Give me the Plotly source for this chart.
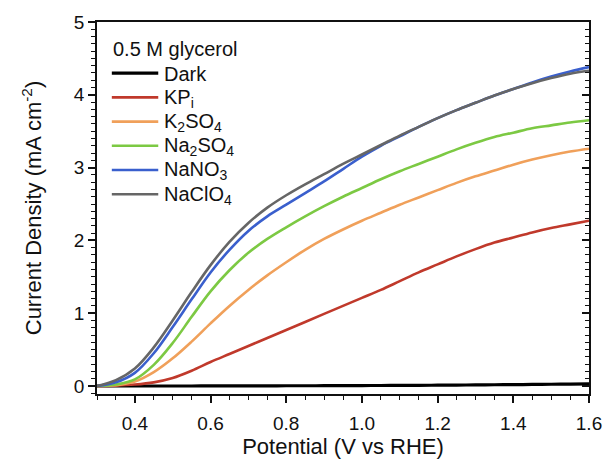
import plotly.graph_objects as go

# Potential grid (V vs RHE)
potential = [0.30, 0.35, 0.40, 0.45, 0.50, 0.55, 0.60, 0.65, 0.70, 0.75,
             0.80, 0.85, 0.90, 0.95, 1.00, 1.05, 1.10, 1.15, 1.20, 1.25,
             1.30, 1.35, 1.40, 1.45, 1.50, 1.55, 1.60]

# Current density (mA cm^-2) for each electrolyte
dark    = [0.000, 0.000, 0.000, 0.000, 0.000, 0.000, 0.001, 0.001, 0.002, 0.002,
           0.003, 0.003, 0.004, 0.005, 0.006, 0.007, 0.008, 0.009, 0.011, 0.013,
           0.015, 0.017, 0.019, 0.021, 0.024, 0.027, 0.030]
kpi     = [0.000, 0.005, 0.020, 0.050, 0.110, 0.210, 0.330, 0.440, 0.550, 0.660,
           0.770, 0.880, 0.990, 1.100, 1.210, 1.320, 1.440, 1.560, 1.670, 1.780,
           1.880, 1.970, 2.040, 2.110, 2.170, 2.220, 2.270]
k2so4   = [0.000, 0.010, 0.060, 0.190, 0.380, 0.610, 0.860, 1.100, 1.320, 1.520,
           1.700, 1.870, 2.020, 2.150, 2.270, 2.380, 2.490, 2.590, 2.690, 2.790,
           2.880, 2.960, 3.040, 3.110, 3.170, 3.220, 3.260]
na2so4  = [0.000, 0.020, 0.090, 0.290, 0.590, 0.950, 1.300, 1.590, 1.830, 2.020,
           2.180, 2.330, 2.470, 2.600, 2.720, 2.840, 2.950, 3.050, 3.150, 3.250,
           3.340, 3.420, 3.480, 3.540, 3.580, 3.620, 3.650]
nano3   = [0.000, 0.050, 0.180, 0.450, 0.810, 1.190, 1.560, 1.870, 2.130, 2.330,
           2.490, 2.650, 2.810, 2.980, 3.150, 3.300, 3.430, 3.560, 3.680, 3.790,
           3.890, 3.990, 4.080, 4.170, 4.250, 4.320, 4.380]
naclo4  = [0.000, 0.080, 0.240, 0.530, 0.900, 1.290, 1.660, 1.980, 2.240, 2.450,
           2.620, 2.770, 2.910, 3.050, 3.180, 3.310, 3.440, 3.560, 3.680, 3.790,
           3.890, 3.990, 4.080, 4.160, 4.230, 4.290, 4.330]

series = [
    ("Dark", dark, "#000000", 3.2),
    ("KP<sub>i</sub>", kpi, "#C0392B", 2.6),
    ("K<sub>2</sub>SO<sub>4</sub>", k2so4, "#F0A05A", 2.6),
    ("Na<sub>2</sub>SO<sub>4</sub>", na2so4, "#7CC943", 2.6),
    ("NaNO<sub>3</sub>", nano3, "#3A5FCD", 2.6),
    ("NaClO<sub>4</sub>", naclo4, "#666666", 2.6),
]
legend_title = "0.5 M glycerol"

FONT = "Liberation Sans, Arial, sans-serif"
W, H = 614, 463
ML, MR, MT, MB = 97, 19, 20, 65
PW, PH = W - ML - MR, H - MT - MB


def px_x(p):
    return (p - ML) / PW


def px_y(p):
    return (H - MB - p) / PH


fig = go.Figure()
for name, vals, color, width in series:
    fig.add_trace(go.Scatter(
        x=potential, y=vals, mode="lines", name=name, showlegend=False,
        line=dict(color=color, width=width, shape="spline", smoothing=1.0),
    ))

# invisible companion trace so the right-hand axis is drawn
fig.add_trace(go.Scatter(x=potential, y=dark, yaxis="y2", mode="lines",
                         line=dict(color="rgba(0,0,0,0)"), showlegend=False,
                         hoverinfo="skip"))

# legend block: title, line samples and labels
fig.add_annotation(text=legend_title, xref="paper", yref="paper",
                   x=px_x(111), y=px_y(47), xanchor="left", yanchor="middle",
                   showarrow=False, font=dict(size=20, color="#111"))
row0, row_gap = 72, 24.6
for i, (name, vals, color, width) in enumerate(series):
    yc = row0 + i * row_gap
    fig.add_shape(type="line", xref="paper", yref="paper",
                  x0=px_x(112), x1=px_x(159), y0=px_y(yc), y1=px_y(yc),
                  line=dict(color=color, width=width))
    fig.add_annotation(text=name, xref="paper", yref="paper",
                       x=px_x(163), y=px_y(yc + 1), xanchor="left",
                       yanchor="middle", showarrow=False,
                       font=dict(size=20, color="#111"))

y_range = [-0.11, 5.0]

fig.update_layout(
    width=W, height=H,
    margin=dict(l=ML, r=MR, t=MT, b=MB),
    paper_bgcolor="white", plot_bgcolor="white",
    font=dict(family=FONT, size=19, color="#111"),
    showlegend=False,
    xaxis=dict(
        range=[0.3, 1.6], tickvals=[0.4, 0.6, 0.8, 1.0, 1.2, 1.4, 1.6],
        ticktext=["0.4", "0.6", "0.8", "1.0", "1.2", "1.4", "1.6"],
        ticks="outside", ticklen=7, tickwidth=1.5, tickcolor="#111",
        ticklabelstandoff=4,
        minor=dict(dtick=0.05, tick0=0.3, ticks="outside", ticklen=4,
                   tickwidth=1.2, tickcolor="#111"),
        showline=True, linecolor="#111", linewidth=1.5, mirror=True,
        showgrid=False, zeroline=False,
        title=dict(text="Potential (V vs RHE)", font=dict(size=22), standoff=2),
        tickfont=dict(size=19),
    ),
    yaxis=dict(
        range=y_range, tickvals=[0, 1, 2, 3, 4, 5],
        ticks="outside", ticklen=7, tickwidth=1.5, tickcolor="#111",
        minor=dict(dtick=0.1, tick0=0, ticks="outside", ticklen=4,
                   tickwidth=1.2, tickcolor="#111"),
        showline=True, linecolor="#111", linewidth=1.5,
        showgrid=False, zeroline=False,
        title=dict(text="Current Density (mA cm<sup>-2</sup>)", font=dict(size=22),
                   standoff=26),
        tickfont=dict(size=19),
    ),
    yaxis2=dict(
        overlaying="y", side="right", range=y_range,
        tickvals=[0, 1, 2, 3, 4, 5], showticklabels=False,
        ticks="inside", ticklen=7, tickwidth=1.5, tickcolor="#111",
        minor=dict(dtick=0.1, tick0=0, ticks="inside", ticklen=4,
                   tickwidth=1.2, tickcolor="#111"),
        showline=True, linecolor="#111", linewidth=1.5,
        showgrid=False, zeroline=False,
    ),
)

fig.write_html("out.html")
